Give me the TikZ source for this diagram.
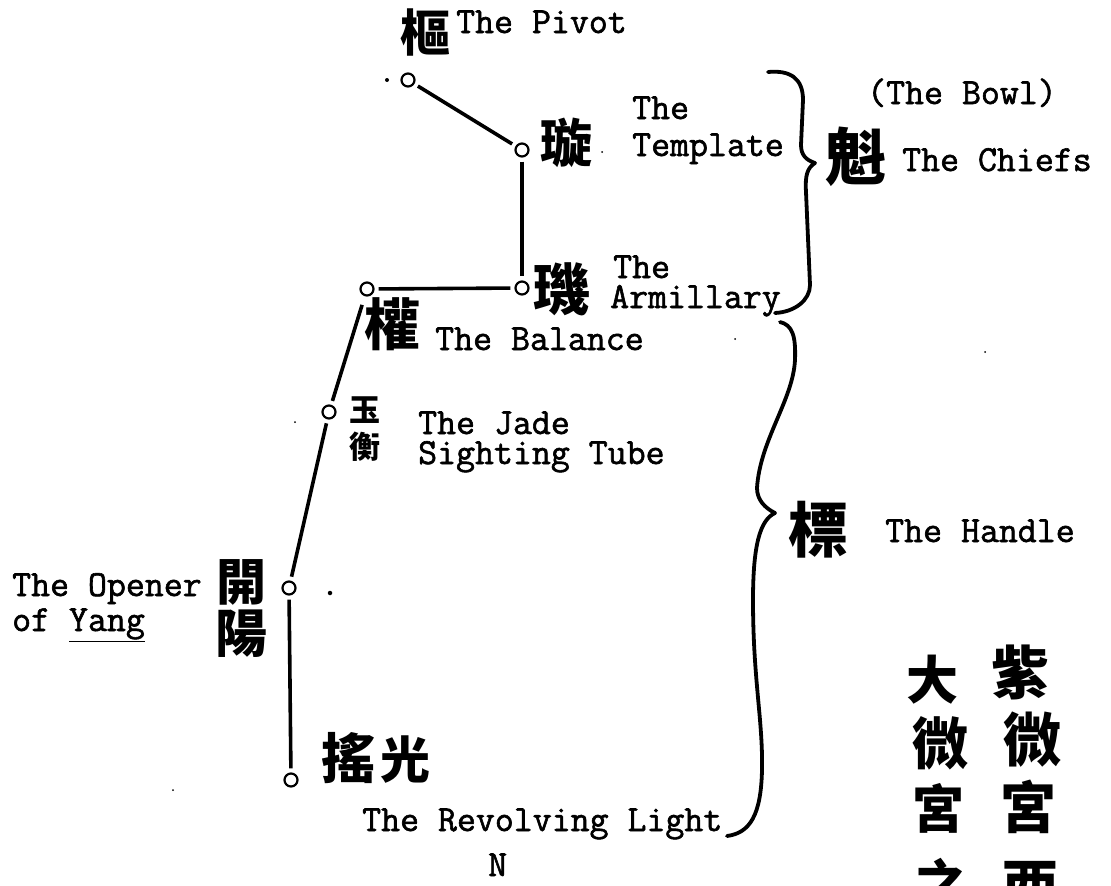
\documentclass[tikz,border=0pt]{standalone}
\usepackage{fontspec}
\setmonofont{Latin Modern Mono}[FakeBold=1.6]
\newfontfamily\cjk{Noto Sans CJK TC}
\newcommand\twolines[3]{\vbox{\baselineskip=#1\hbox{#2}\hbox{#3}}}
\begin{document}
\begin{tikzpicture}[x=1pt,y=-1pt,
  lbl/.style={anchor=base west,inner sep=0pt,font=\ttfamily\fontsize{36.8}{40}\selectfont},
  cj/.style={anchor=center,inner sep=0pt,font=\cjk\bfseries\fontsize{#1}{#1}\selectfont},
  cj/.default=55,
  star/.style={circle,draw,line width=2.2pt,minimum size=13pt,inner sep=0pt},
  link/.style={line width=3.6pt,shorten <=4pt,shorten >=4pt},
  brace/.style={line width=3.8pt,line cap=round,line join=round},
  speck/.style={circle,fill,inner sep=0pt,minimum size=#1},
  speck/.default=3pt]
\useasboundingbox (0,0) rectangle (1111,886);
% stars of the dipper
\node[star] (pivot) at (408,80) {};
\node[star] (templ) at (522,150) {};
\node[star] (armil) at (522,288) {};
\node[star] (bal) at (367,289) {};
\node[star] (jade) at (329,412) {};
\node[star] (open) at (289,588) {};
\node[star] (revl) at (291,780) {};
% connectors
\draw[link] (pivot) -- (templ);
\draw[link] (templ) -- (armil);
\draw[link] (bal) -- (armil);
\draw[link,shorten <=9pt] (bal) -- (jade);
\draw[link] (jade) -- (open);
\draw[link] (open) -- (revl);
% dots
\node[speck=4pt] (d1) at (387,80) {};
\node[speck=4.5pt] (d2) at (330,593) {};
\node[speck=2pt] (d3) at (173,790) {};
\node[speck=2pt] (d4) at (295,422) {};
\node[speck=2pt] (d5) at (735,339) {};
\node[speck=2pt] (d6) at (985,352) {};
\node[speck=2pt] (d7) at (602,152) {};
% Chinese labels
\node[cj=50] (cPivot) at (425,32) {樞};
\node[cj=52] (cTempl) at (566,143) {璇};
\node[cj=62] (cChief) at (856,157) {魁};
\node[cj=56] (cArmil) at (561,289) {璣};
\node[cj=56] (cBal) at (392,324) {權};
\node[cj=31] (cJade1) at (365,410) {玉};
\node[cj=31] (cJade2) at (365,447) {衡};
\node[cj=50] (cOpen1) at (241,582) {開};
\node[cj=52] (cOpen2) at (241,634) {陽};
\node[cj=54] (cRev1) at (348,758) {搖};
\node[cj=50] (cRev2) at (405,760) {光};
\node[cj=60] (cHandle) at (818,530) {標};
\node[cj=58] (r1) at (1020,672) {紫};
\node[cj=58] (r2) at (1032,740) {微};
\node[cj=56] (r3) at (1028,807) {宮};
\node[cj=56] (r4) at (1030,886) {西};
\node[cj=52] (l1) at (932,680) {大};
\node[cj=56] (l2) at (940,743) {微};
\node[cj=52] (l3) at (938,808) {宮};
\node[cj=52] (l4) at (940,883) {之};
% English labels
\node[lbl] (tPivot) at (456,33) {The Pivot};
\node[lbl] (tTempl) at (632,156) {\twolines{37pt}{The}{Template}};
\node[lbl] (tBowl) at (867,104) {(The Bowl)};
\node[lbl] (tChief) at (902,171) {The Chiefs};
\node[lbl] (tArmil) at (610,308) {\twolines{30pt}{\kern3pt The}{Armillary}};
\node[lbl] (tBal) at (435,350) {The Balance};
\node[lbl] (tJade) at (418,464) {\twolines{30pt}{The Jade}{Sighting Tube}};
\node[lbl] (tOpen) at (12,631) {\twolines{35pt}{The Opener}{of \underline{Yang}}};
\node[lbl] (tHandle) at (885,542) {The Handle};
\node[lbl] (tRev) at (362,831) {The Revolving Light};
\node[lbl] (tN) at (488,876) {N};
% braces
\draw[brace] (768,72) .. controls (790,70) and (803,78) .. (803,100)
  -- (801,145) .. controls (801,155) and (806,160) .. (815,163)
  .. controls (807,168) and (805,176) .. (806,192)
  -- (810,285) .. controls (810,300) and (795,312) .. (775,313);
\draw[brace] (780,322) .. controls (792,325) and (796,335) .. (795,360)
  .. controls (793,400) and (760,440) .. (757,488)
  .. controls (757,500) and (765,508) .. (775,513)
  .. controls (760,520) and (753,545) .. (753,600)
  .. controls (753,680) and (763,720) .. (762,770)
  .. controls (761,815) and (750,833) .. (727,836);
\end{tikzpicture}
\end{document}
